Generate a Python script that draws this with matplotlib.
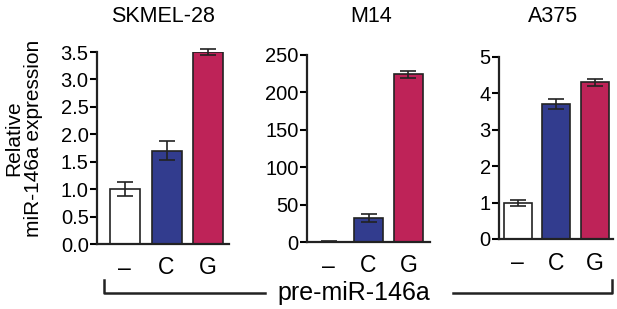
import matplotlib.pyplot as plt
from matplotlib.lines import Line2D

plt.rcParams['font.family'] = ['Liberation Sans', 'DejaVu Sans']

conditions = ['\u2013', 'C', 'G']
bar_colors = ['white', '#323C8E', '#BE2358']

cell_lines = ['SKMEL-28', 'M14', 'A375']
means = {
    'SKMEL-28': [1.0, 1.7, 3.5],
    'M14': [0.6, 32.0, 224.0],
    'A375': [1.0, 3.7, 4.3],
}
errors = {
    'SKMEL-28': [0.13, 0.17, 0.05],
    'M14': [0.3, 5.0, 5.0],
    'A375': [0.08, 0.14, 0.1],
}
yticks = {
    'SKMEL-28': [0, 0.5, 1.0, 1.5, 2.0, 2.5, 3.0, 3.5],
    'M14': [0, 50, 100, 150, 200, 250],
    'A375': [0, 1, 2, 3, 4, 5],
}
ytick_fmt = {'SKMEL-28': '{:.1f}', 'M14': '{:d}', 'A375': '{:d}'}

W, H = 617, 309
fig = plt.figure(figsize=(W / 100, H / 100), dpi=100)

# axes boxes in pixels: left, right, bottom(y=0), top(y=max), title centre x
boxes = {
    'SKMEL-28': (97, 229, 244, 52, 163),
    'M14': (307, 430, 242, 55, 371),
    'A375': (499, 613, 239, 57, 553),
}
xlims = {
    'SKMEL-28': (-0.67, 2.5),
    'M14': (-0.54, 2.54),
    'A375': (-0.48, 2.46),
}

for name in cell_lines:
    l, r, b, t, tx = boxes[name]
    ax = fig.add_axes([l / W, 1 - b / H, (r - l) / W, (b - t) / H])
    x = range(len(conditions))
    bars = ax.bar(x, means[name], width=0.72, color=bar_colors, edgecolor='#222222', linewidth=1.2,
                  yerr=errors[name], capsize=6,
                  error_kw=dict(ecolor='#222222', elinewidth=1.2, capthick=1.2))
    for art in bars.errorbar.get_children():
        art.set_clip_on(False)
    ax.set_xlim(*xlims[name])
    ticks = yticks[name]
    ax.set_ylim(0, ticks[-1])
    ax.set_yticks(ticks)
    ax.set_yticklabels([ytick_fmt[name].format(v) for v in ticks], fontsize=14.5)
    ax.set_xticks(list(x))
    ax.set_xticklabels(conditions, fontsize=16.5)
    ax.tick_params(axis='x', length=0, pad=9)
    ax.tick_params(axis='y', length=5, width=1.5, pad=1)
    for s in ['top', 'right']:
        ax.spines[s].set_visible(False)
    for s in ['left', 'bottom']:
        ax.spines[s].set_linewidth(1.6)
        ax.spines[s].set_color('#222222')
    ax.patch.set_alpha(0)
    fig.text(tx / W, 1 - 17 / H, name, ha='center', va='center', fontsize=15.5)

fig.text(24 / W, 1 - 138 / H, 'Relative\nmiR-146a expression', rotation=90,
         ha='center', va='center', fontsize=15, linespacing=1.05)

# bracket under the panels
by, bt = 1 - 293 / H, 1 - 280 / H
kw = dict(color='#222222', linewidth=1.8, transform=fig.transFigure)
fig.lines.append(Line2D([104 / W, 104 / W, 265 / W], [bt, by, by], **kw))
fig.lines.append(Line2D([453 / W, 612 / W, 612 / W], [by, by, bt], **kw))
fig.text(354 / W, by, 'pre-miR-146a', ha='center', va='center', fontsize=18)

fig.savefig('out.png', dpi=100)
